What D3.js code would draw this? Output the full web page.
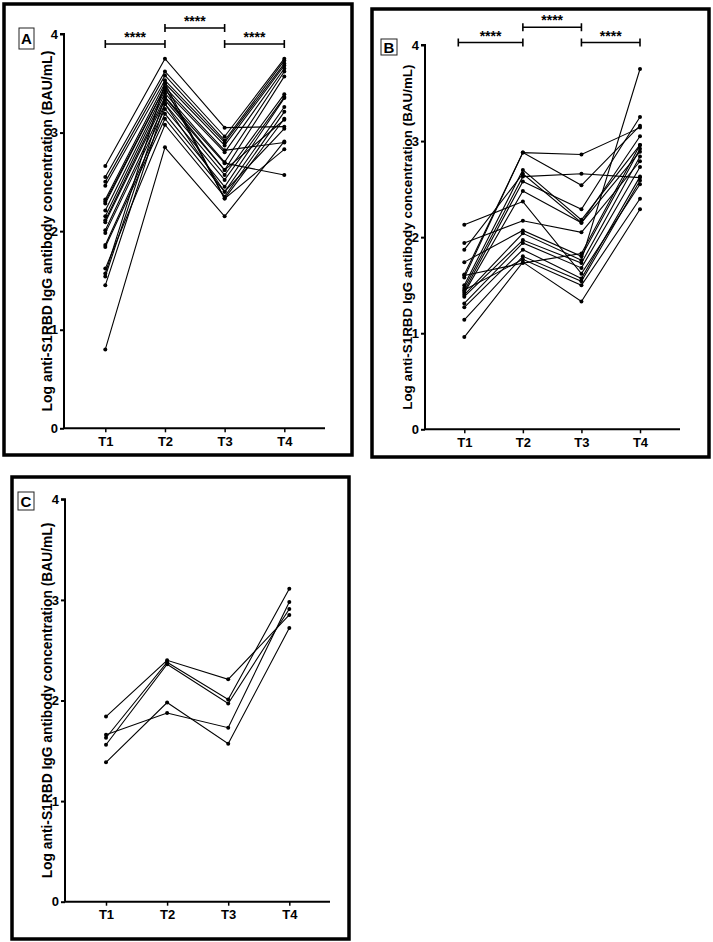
<!DOCTYPE html>
<html><head><meta charset="utf-8">
<script src="https://cdn.jsdelivr.net/npm/d3@7"></script>
<style>
body{margin:0;background:#fff;}
svg{display:block;font-family:"Liberation Sans",Arial,sans-serif;}
</style></head>
<body><svg id="c" width="713" height="942"></svg>
<script>
const categories = ["T1","T2","T3","T4"];
const yTicks = [0,1,2,3,4];
const yTitle = "Log anti-S1RBD IgG antibody concentration (BAU/mL)";
const sigLabel = "****";

const panelA_values = [
  [2.66,3.75,3.05,3.06],
  [2.55,3.62,2.96,3.75],
  [2.50,3.58,2.92,3.73],
  [2.46,3.53,2.90,3.70],
  [2.32,3.50,2.87,3.68],
  [2.28,3.46,2.82,2.90],
  [2.21,3.43,2.80,3.65],
  [2.15,3.40,2.70,3.62],
  [2.11,3.36,2.69,2.57],
  [2.09,3.33,2.62,3.57],
  [2.01,3.29,2.57,3.39],
  [1.98,3.24,2.52,3.36],
  [1.86,3.19,2.45,3.35],
  [1.84,3.14,2.40,3.26],
  [1.62,3.08,2.35,3.21],
  [1.57,3.50,2.33,3.14],
  [1.54,3.36,2.62,3.13],
  [1.45,3.29,2.40,3.04],
  [0.80,2.85,2.15,2.91],
  [2.30,3.46,2.33,2.83]
];
const panelB_values = [
  [2.13,2.37,1.62,2.55],
  [1.94,2.17,2.05,2.79],
  [1.87,2.66,2.15,3.05],
  [1.74,2.07,1.80,2.92],
  [1.61,2.88,2.86,3.14],
  [1.58,2.88,2.54,3.16],
  [1.50,2.70,2.18,2.96],
  [1.47,2.63,2.66,2.62],
  [1.44,2.58,2.29,3.25],
  [1.42,2.48,2.15,2.89],
  [1.40,2.04,1.76,3.75],
  [1.38,1.97,1.73,2.84],
  [1.31,1.94,1.68,2.73],
  [1.27,1.87,1.57,2.63],
  [1.14,1.80,1.54,2.59],
  [0.96,1.74,1.33,2.29],
  [1.45,1.77,1.50,2.40],
  [1.60,1.73,1.83,2.96]
];
const panelC_values = [
  [1.84,2.40,2.21,2.85],
  [1.63,2.38,2.01,3.11],
  [1.56,2.36,1.97,2.91],
  [1.66,1.875,1.73,2.98],
  [1.385,1.98,1.57,2.72]
];
// significance brackets: [from, to, level]
const panelA_brackets = [["T1","T2",1],["T2","T3",2],["T3","T4",1]];
const panelB_brackets = [["T1","T2",1],["T2","T3",2],["T3","T4",1]];
const panelC_brackets = [];

const svg = d3.select("#c");

const panels = [
  {label:"A", data:panelA_values, brackets:panelA_brackets,
   box:[4,4,352,455], lbl:[19,28,15,21],
   axX:64, axR:325, y0:428.3, y4:34, x1:105.3, x4:284.3,
   titleX:47, titleSize:14, brY:[44,28], brStart:0},
  {label:"B", data:panelB_values, brackets:panelB_brackets,
   box:[372,9,709,457], lbl:[381,39,16,16],
   axX:425, axR:680, y0:429.3, y4:45, x1:464.3, x4:640,
   titleX:407, titleSize:13.4, brY:[42.5,27.3], brStart:-6},
  {label:"C", data:panelC_values, brackets:panelC_brackets,
   box:[12,477,349,939], lbl:[18,492,16,18],
   axX:65, axR:330, y0:901.7, y4:499.3, x1:106, x4:289.3,
   titleX:47, titleSize:13.8, brY:[0,0], brStart:0}
];

panels.forEach(p => {
  const g = svg.append("g");
  g.append("rect").attr("x",p.box[0]).attr("y",p.box[1])
    .attr("width",p.box[2]-p.box[0]).attr("height",p.box[3]-p.box[1])
    .attr("fill","none").attr("stroke","#000").attr("stroke-width",3.5);
  g.append("rect").attr("x",p.lbl[0]).attr("y",p.lbl[1]).attr("width",p.lbl[2]).attr("height",p.lbl[3])
    .attr("fill","#fff").attr("stroke","#222").attr("stroke-width",1);
  g.append("text").attr("x",p.lbl[0]+p.lbl[2]/2).attr("y",p.lbl[1]+p.lbl[3]/2)
    .attr("text-anchor","middle").attr("dominant-baseline","central")
    .attr("font-weight","bold").attr("font-size",15).text(p.label);

  const x = d3.scalePoint().domain(categories).range([p.x1,p.x4]);
  const y = d3.scaleLinear().domain([0,4]).range([p.y0,p.y4]);

  const ya = g.append("g").attr("transform",`translate(${p.axX},0)`)
    .call(d3.axisLeft(y).tickValues(yTicks).tickFormat(d3.format("d")).tickSize(4).tickPadding(2));
  ya.select(".domain").attr("stroke-width",2).attr("d",`M-4,${p.y4}H0V${p.y0}`);
  ya.selectAll(".tick line").attr("stroke-width",2);
  ya.selectAll(".tick text").attr("font-size",13).attr("font-weight","bold")
    .attr("font-family","Liberation Sans, Arial, sans-serif").attr("fill","#000");

  const xa = g.append("g").attr("transform",`translate(0,${p.y0})`)
    .call(d3.axisBottom(x).tickSize(4).tickPadding(4));
  xa.select(".domain").attr("stroke-width",2).attr("d",`M${p.axX},0H${p.axR}`);
  xa.selectAll(".tick line").attr("stroke-width",1.5);
  xa.selectAll(".tick text").attr("font-size",13).attr("font-weight","bold")
    .attr("font-family","Liberation Sans, Arial, sans-serif").attr("fill","#000");

  g.append("text")
    .attr("transform",`translate(${p.titleX},${(p.y0+p.y4)/2}) rotate(-90)`)
    .attr("text-anchor","middle").attr("dominant-baseline","central")
    .attr("font-weight","bold").attr("font-size",p.titleSize).text(yTitle);

  const line = d3.line().x((d,i)=>x(categories[i])).y(d=>y(d));
  g.append("g").selectAll("path").data(p.data).join("path")
    .attr("d",line).attr("fill","none").attr("stroke","#000").attr("stroke-width",1.1);
  const pts = p.data.flatMap(s => s.map((v,i)=>({c:categories[i],v})));
  g.append("g").selectAll("circle").data(pts).join("circle")
    .attr("cx",d=>x(d.c)).attr("cy",d=>y(d.v)).attr("r",2).attr("fill","#000");

  p.brackets.forEach(b => {
    const xa0 = x(b[0]) + (b[0]==="T1" ? p.brStart : 0);
    const xb = x(b[1]);
    const yy = p.brY[b[2]-1];
    const bg = g.append("g");
    bg.append("path").attr("d",`M${xa0},${yy}H${xb}M${xa0},${yy-4}V${yy+4}M${xb},${yy-4}V${yy+4}`)
      .attr("stroke","#000").attr("stroke-width",1.6).attr("fill","none");
    bg.append("text").attr("x",(xa0+xb)/2).attr("y",yy-2)
      .attr("text-anchor","middle").attr("font-weight","bold").attr("font-size",14)
      .text(sigLabel);
  });
});
</script></body></html>
